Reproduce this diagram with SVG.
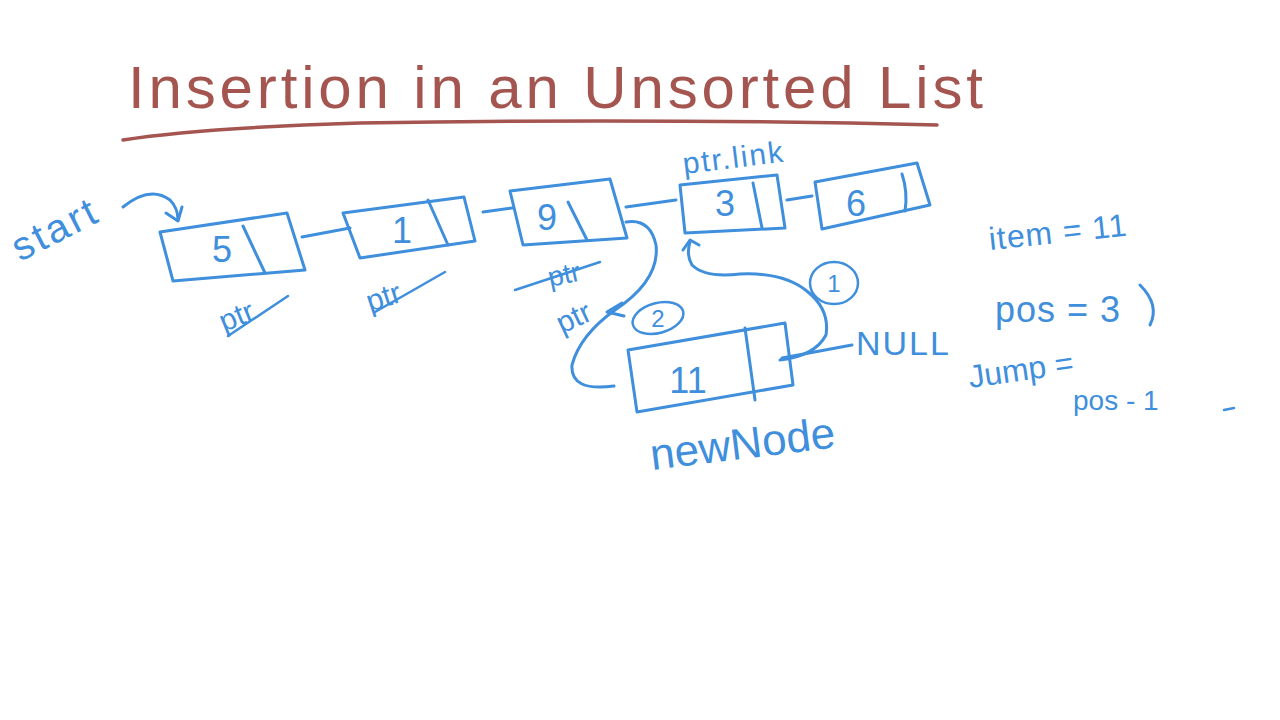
<svg xmlns="http://www.w3.org/2000/svg" width="1280" height="720" viewBox="0 0 1280 720">
<defs>
<style>
.ink{fill:none;stroke:#3f8fdc;stroke-width:3;stroke-linecap:round;stroke-linejoin:round}
.thin{fill:none;stroke:#3f8fdc;stroke-width:2.5;stroke-linecap:round;stroke-linejoin:round}
.t{font-family:"Liberation Sans","DejaVu Sans",sans-serif;fill:#3f8fdc}
.v{font-family:"Liberation Sans","DejaVu Sans",sans-serif;fill:#3f8fdc;font-size:36px;text-anchor:middle}
.title{font-family:"Liberation Sans","DejaVu Sans",sans-serif;fill:#a55550;font-size:60px}
</style>
</defs>
<rect width="1280" height="720" fill="#ffffff"/>

<g id="title">
<text class="title" x="128" y="108" textLength="855" lengthAdjust="spacing">Insertion in an Unsorted List</text>
<path d="M123 140 Q 200 128 360 123 Q 650 118 937 125" fill="none" stroke="#a55550" stroke-width="3.5" stroke-linecap="round"/>
</g>

<g id="start">
<text class="t" font-size="40" letter-spacing="3" transform="translate(20,262) rotate(-27)">start</text>
<path class="ink" d="M123 207 Q 150 185 170 200 Q 178 208 178 220"/>
<path class="ink" d="M166 213 L178 221 L182 207"/>
</g>

<g id="connectors">
<path class="ink" d="M302 237 L350 228"/>
<path class="ink" d="M483 212 L512 208"/>
<path class="ink" d="M626 207 L676 200"/>
<path class="ink" d="M787 200 L812 196"/>
<path class="ink" d="M780 360 Q 815 356 826 335 Q 830 310 808 292 Q 785 272 740 274 Q 705 278 692 265 Q 686 255 690 242"/>
<path class="ink" d="M683 250 L690 240 L699 245"/>
<path class="ink" d="M782 358 L852 345"/>
<path class="ink" d="M626 222 Q 650 218 656 245 Q 660 280 615 310 Q 580 335 572 365 Q 570 392 614 386"/>
<path class="ink" d="M622 303 L607 312 L624 316"/>
</g>

<g id="node5">
<path class="ink" d="M160 232 L287 213 L305 270 L173 281 Z"/>
<path class="ink" d="M243 226 L265 273"/>
<text class="v" x="222" y="262">5</text>
</g>

<g id="node1">
<path class="ink" d="M343 213 L464 197 L475 241 L360 258 Z"/>
<path class="ink" d="M428 200 L448 245"/>
<text class="v" x="402" y="243">1</text>
</g>

<g id="node9">
<path class="ink" d="M510 191 L610 179 L627 238 L523 245 Z"/>
<path class="ink" d="M568 202 L587 240"/>
<text class="v" x="547" y="230">9</text>
</g>

<g id="node3">
<path class="ink" d="M680 185 L777 175 L785 228 L685 233 Z"/>
<path class="ink" d="M753 183 L762 228"/>
<text class="v" x="725" y="216">3</text>
</g>

<g id="node6">
<path class="ink" d="M815 182 L917 163 L930 205 L822 229 Z"/>
<path class="ink" d="M902 174 Q 908 192 905 211"/>
<text class="v" x="856" y="216">6</text>
</g>

<g id="newNode">
<path class="ink" d="M628 350 L785 323 L793 385 L637 412 Z"/>
<path class="ink" d="M745 328 L755 400"/>
<text class="v" x="688" y="393">11</text>
<text class="t" font-size="44" transform="translate(652,470) rotate(-7)">newNode</text>
</g>

<g id="labels">
<text class="t" font-size="30" transform="translate(224,332) rotate(-22)">ptr</text>
<path class="thin" d="M228 336 L288 296"/>
<text class="t" font-size="30" transform="translate(370,312) rotate(-18)">ptr</text>
<path class="thin" d="M375 312 L445 272"/>
<text class="t" font-size="28" transform="translate(550,287) rotate(-12)">ptr</text>
<path class="thin" d="M515 290 L600 262"/>
<text class="t" font-size="30" transform="translate(562,334) rotate(-25)">ptr</text>
<text class="t" font-size="30" letter-spacing="2" transform="translate(684,174) rotate(-7)">ptr.link</text>
<text class="t" font-size="34" x="856" y="355" letter-spacing="2">NULL</text>
<ellipse class="thin" cx="834" cy="283" rx="24" ry="21"/>
<text class="t" font-size="24" x="834" y="292" text-anchor="middle">1</text>
<ellipse class="thin" cx="658" cy="318" rx="26" ry="15" transform="rotate(-15 658 318)"/>
<text class="t" font-size="24" x="658" y="327" text-anchor="middle">2</text>
</g>

<g id="notes">
<text class="t" font-size="32" letter-spacing="1" transform="translate(990,250) rotate(-6)">item = 11</text>
<text class="t" font-size="36" x="995" y="322" letter-spacing="1">pos = 3</text>
<path class="ink" d="M1140 285 Q 1160 305 1150 325"/>
<text class="t" font-size="32" transform="translate(970,388) rotate(-8)">Jump =</text>
<text class="t" font-size="28" x="1073" y="410">pos - 1</text>
<path class="thin" d="M1224 410 L1234 408"/>
</g>
</svg>
